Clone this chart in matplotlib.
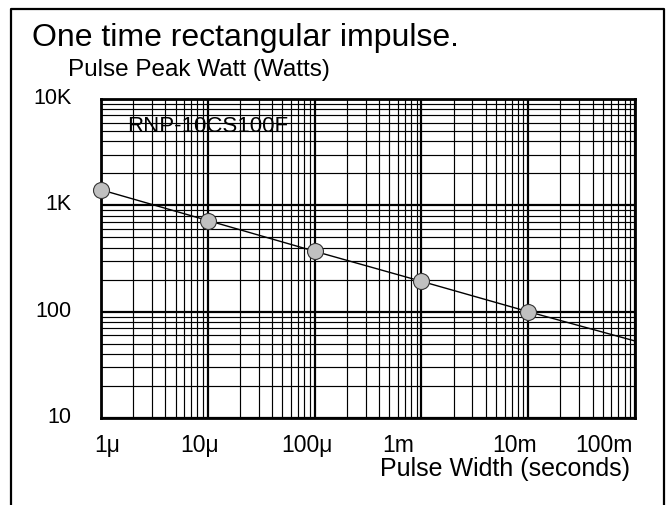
import numpy as np
import matplotlib
matplotlib.use("Agg")
import matplotlib.pyplot as plt
import matplotlib.transforms as mtransforms
from matplotlib.lines import Line2D
from matplotlib.ticker import LogLocator, NullFormatter

plt.rcParams['font.family'] = ['Liberation Sans', 'DejaVu Sans']

# data
pulse_width = [1e-6, 1e-5, 1e-4, 1e-3, 1e-2]
peak_watt = [1400, 720, 370, 193, 100]
# fitted line, drawn out to the right edge
line_x = [1e-6, 1e-5, 1e-4, 1e-3, 1e-2, 1e-1]
line_y = [1400, 720, 370, 193, 100, 53]

x_ticks = [1e-6, 1e-5, 1e-4, 1e-3, 1e-2, 1e-1]
x_labels = ['1μ', '10μ', '100μ', '1m', '10m', '100m']
y_ticks = [10, 100, 1000, 10000]
y_labels = ['10', '100', '1K', '10K']

W, H = 667, 506
fig = plt.figure(figsize=(W / 100, H / 100), dpi=100)
fig.patch.set_facecolor('white')

# axes box in pixels: left 101, right 635, top 100, bottom 419
ax = fig.add_axes([101 / W, 1 - 419 / H, (635 - 101) / W, (419 - 100) / H])
ax.set_xscale('log')
ax.set_yscale('log')
ax.set_xlim(1e-6, 1e-1)
ax.set_ylim(10, 1e4)

ax.xaxis.set_minor_locator(LogLocator(base=10, subs=np.arange(2, 10), numticks=100))
ax.yaxis.set_minor_locator(LogLocator(base=10, subs=np.arange(2, 10), numticks=100))
ax.xaxis.set_minor_formatter(NullFormatter())
ax.yaxis.set_minor_formatter(NullFormatter())

ax.set_xticks(x_ticks, labels=x_labels)
ax.set_yticks(y_ticks, labels=y_labels)
ax.tick_params(which='both', length=0)
ax.tick_params(axis='x', pad=11, labelsize=16.5)
ax.tick_params(axis='y', pad=21, labelsize=15.5)

ax.grid(which='major', color='black', lw=1.6)
ax.grid(which='minor', color='black', lw=0.85)
ax.set_axisbelow(True)
for s in ax.spines.values():
    s.set_linewidth(2.0)
    s.set_color('black')

# nudge tick labels the way they sit in the original
xshift = [6, -8, -8, -23, -14, -31]
for lab, dx in zip(ax.get_xticklabels(), xshift):
    lab.set_transform(lab.get_transform() + mtransforms.ScaledTranslation(dx / 100, 0, fig.dpi_scale_trans))
for lab in ax.get_yticklabels():
    lab.set_transform(lab.get_transform() + mtransforms.ScaledTranslation(0, 4 / 100, fig.dpi_scale_trans))

ax.plot(line_x, line_y, color='black', lw=1.0, zorder=3)
ax.plot(pulse_width, peak_watt, ls='none', marker='o', ms=11.5,
        mfc='#c0c0c0', mec='#333333', mew=0.8, zorder=4, clip_on=False)

ax.text((208 - 101) / 534, (419 - 131.5) / 319, 'RNP-10CS100F', transform=ax.transAxes,
        ha='center', va='baseline', fontsize=16, zorder=5)

fig.text(32 / W, 1 - 46 / H, 'One time rectangular impulse.', ha='left', va='baseline', fontsize=23)
fig.text(68 / W, 1 - 76 / H, 'Pulse Peak Watt (Watts)', ha='left', va='baseline', fontsize=17.5)
fig.text(505 / W, 1 - 476 / H, 'Pulse Width (seconds)', ha='center', va='baseline', fontsize=18)

# frame around the figure, open at the bottom
fig.add_artist(Line2D([11 / W, 11 / W, 664 / W, 664 / W], [0, 1 - 9.5 / H, 1 - 9.5 / H, 0],
                      transform=fig.transFigure, color='black', lw=1.6))

fig.savefig('out.png', dpi=100)
